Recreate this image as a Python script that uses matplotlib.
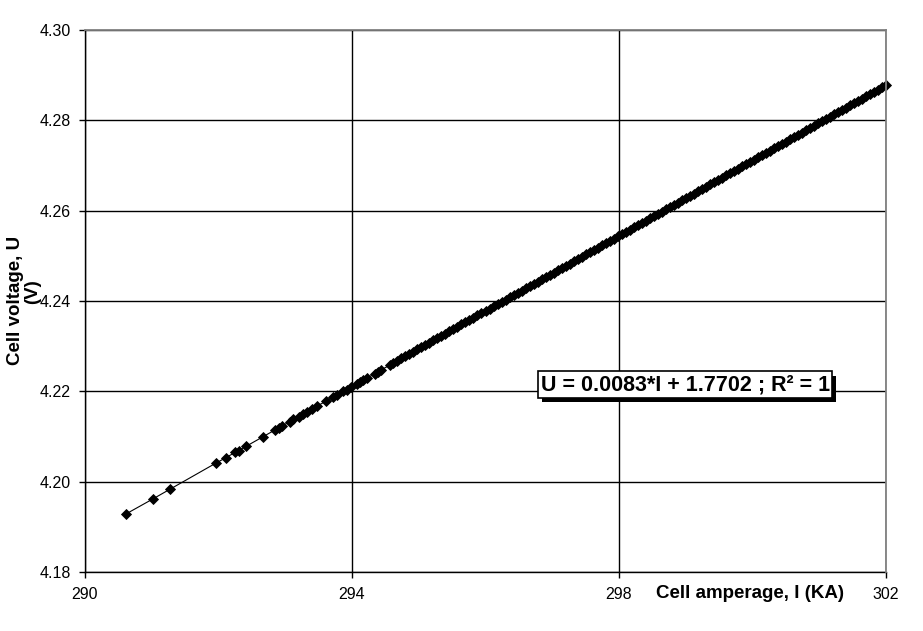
import matplotlib
matplotlib.use("Agg")
import matplotlib.pyplot as plt
import matplotlib.patheffects as pe

plt.rcParams['font.family'] = ['Liberation Sans', 'DejaVu Sans']

# Sparse low-current measurements
current_sparse = [290.62, 291.02, 291.27, 291.96, 292.11, 292.25, 292.30, 292.41,
                  292.66, 292.85, 292.90, 292.95, 293.07, 293.12, 293.20, 293.27,
                  293.33, 293.40, 293.47, 293.61, 293.72, 293.77, 293.87, 293.92,
                  293.99, 294.07, 294.12, 294.17, 294.22, 294.34, 294.39, 294.44,
                  294.57, 294.62]
voltage_sparse = [4.1929, 4.1962, 4.1983, 4.2041, 4.2053, 4.2065, 4.2069, 4.2078,
                  4.2099, 4.2115, 4.2119, 4.2123, 4.2133, 4.2138, 4.2144, 4.2150,
                  4.2155, 4.2161, 4.2167, 4.2178, 4.2188, 4.2192, 4.2200, 4.2204,
                  4.2210, 4.2217, 4.2221, 4.2225, 4.2229, 4.2239, 4.2243, 4.2248,
                  4.2258, 4.2263]

# Dense measurements (294.7 - 302 kA)
current_dense = [
    294.68, 294.74, 294.80, 294.86, 294.92, 294.98, 295.04, 295.10, 295.16, 295.22,
    295.28, 295.34, 295.40, 295.46, 295.52, 295.58, 295.64, 295.70, 295.76, 295.82,
    295.88, 295.94, 296.00, 296.06, 296.12, 296.18, 296.24, 296.30, 296.36, 296.42,
    296.48, 296.54, 296.60, 296.66, 296.72, 296.78, 296.84, 296.90, 296.96, 297.02,
    297.08, 297.14, 297.20, 297.26, 297.32, 297.38, 297.44, 297.50, 297.56, 297.62,
    297.68, 297.74, 297.80, 297.86, 297.92, 297.98, 298.04, 298.10, 298.16, 298.22,
    298.28, 298.34, 298.40, 298.46, 298.52, 298.58, 298.64, 298.70, 298.76, 298.82,
    298.88, 298.94, 299.00, 299.06, 299.12, 299.18, 299.24, 299.30, 299.36, 299.42,
    299.48, 299.54, 299.60, 299.66, 299.72, 299.78, 299.84, 299.90, 299.96, 300.02,
    300.08, 300.14, 300.20, 300.26, 300.32, 300.38, 300.44, 300.50, 300.56, 300.62,
    300.68, 300.74, 300.80, 300.86, 300.92, 300.98, 301.04, 301.10, 301.16, 301.22,
    301.28, 301.34, 301.40, 301.46, 301.52, 301.58, 301.64, 301.70, 301.76, 301.82,
    301.88, 301.94, 302.00]
voltage_dense = [
    4.2268, 4.2273, 4.2278, 4.2283, 4.2288, 4.2293, 4.2298, 4.2303, 4.2308, 4.2313,
    4.2318, 4.2323, 4.2328, 4.2333, 4.2338, 4.2343, 4.2348, 4.2353, 4.2358, 4.2363,
    4.2368, 4.2373, 4.2378, 4.2383, 4.2388, 4.2393, 4.2398, 4.2403, 4.2408, 4.2413,
    4.2418, 4.2423, 4.2428, 4.2433, 4.2438, 4.2443, 4.2448, 4.2453, 4.2458, 4.2463,
    4.2468, 4.2473, 4.2478, 4.2483, 4.2488, 4.2493, 4.2498, 4.2503, 4.2508, 4.2513,
    4.2518, 4.2523, 4.2528, 4.2533, 4.2538, 4.2543, 4.2548, 4.2553, 4.2558, 4.2563,
    4.2568, 4.2573, 4.2578, 4.2583, 4.2588, 4.2593, 4.2598, 4.2603, 4.2608, 4.2613,
    4.2618, 4.2623, 4.2628, 4.2633, 4.2638, 4.2643, 4.2648, 4.2653, 4.2658, 4.2663,
    4.2668, 4.2673, 4.2678, 4.2683, 4.2688, 4.2693, 4.2698, 4.2703, 4.2708, 4.2713,
    4.2718, 4.2723, 4.2728, 4.2733, 4.2738, 4.2743, 4.2748, 4.2753, 4.2758, 4.2763,
    4.2768, 4.2773, 4.2778, 4.2783, 4.2788, 4.2793, 4.2798, 4.2803, 4.2808, 4.2813,
    4.2818, 4.2823, 4.2828, 4.2833, 4.2838, 4.2843, 4.2848, 4.2853, 4.2858, 4.2863,
    4.2868, 4.2873, 4.2878]

current = current_sparse + current_dense
voltage = voltage_sparse + voltage_dense

x_ticks = [290, 294, 298, 302]
x_tick_labels = ["290", "294", "298", "302"]
y_ticks = [4.18, 4.20, 4.22, 4.24, 4.26, 4.28, 4.30]
y_tick_labels = ["4.18", "4.20", "4.22", "4.24", "4.26", "4.28", "4.30"]

equation_text = "U = 0.0083*I + 1.7702 ; R\u00b2 = 1"

fig = plt.figure(figsize=(9.23, 6.31), dpi=100)
ax = fig.add_axes([85/923, 1 - 572/631, (886 - 85)/923, (572 - 30)/631])

ax.set_xlim(290, 302)
ax.set_ylim(4.18, 4.30)
ax.set_xticks(x_ticks)
ax.set_xticklabels(x_tick_labels)
ax.set_yticks(y_ticks)
ax.set_yticklabels(y_tick_labels)
ax.grid(True, color='black', linewidth=1.0)
ax.set_axisbelow(True)

ax.plot(current, voltage, color='black', linewidth=0.8,
        marker='D', markersize=5.3, markerfacecolor='black',
        markeredgecolor='black', markeredgewidth=0.6, zorder=3, clip_on=False)

for s in ['left', 'bottom']:
    ax.spines[s].set_color('black')
    ax.spines[s].set_linewidth(1.0)
for s in ['top', 'right']:
    ax.spines[s].set_color('#808080')
    ax.spines[s].set_linewidth(1.3)
    ax.spines[s].set_zorder(4)

ax.tick_params(axis='both', direction='out', length=4, width=1,
               labelsize=11.5, colors='black')
ax.tick_params(axis='x', pad=7)
ax.tick_params(axis='y', pad=6)

# Axis titles
fig.text(16/923, 1 - 300/631, "Cell voltage, U", rotation=90, fontsize=13.5,
         fontweight='bold', ha='center', va='center')
fig.text(33/923, 1 - 292/631, "(V)", rotation=90, fontsize=13.5,
         fontweight='bold', ha='center', va='center')
fig.text(750/923, 1 - 593/631, "Cell amperage, I (KA)", fontsize=13.5,
         fontweight='bold', ha='center', va='center')

# Regression equation box
t = ax.text(298.99, 4.2215, equation_text, fontsize=15.5, fontweight='bold',
            ha='center', va='center', zorder=6,
            bbox=dict(boxstyle='square,pad=0.12', facecolor='white',
                      edgecolor='black', linewidth=1.2))
t.get_bbox_patch().set_path_effects([
    pe.SimplePatchShadow(offset=(3, -3), shadow_rgbFace='black', alpha=1.0),
    pe.Normal()])

fig.savefig("out.png", dpi=100)
